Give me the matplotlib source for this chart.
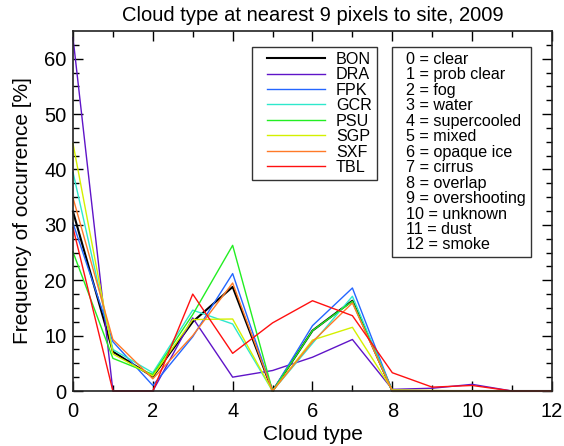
import numpy as np
import matplotlib
matplotlib.use('Agg')
import matplotlib.pyplot as plt
from matplotlib.lines import Line2D
from matplotlib.legend_handler import HandlerLine2D

plt.rcParams['font.family'] = ['Liberation Sans', 'DejaVu Sans']

cloud_type = np.arange(13)
sites = ['BON', 'DRA', 'FPK', 'GCR', 'PSU', 'SGP', 'SXF', 'TBL']
colors = ['#000000', '#5f14c8', '#2466ff', '#2ee8cc', '#22ee22', '#d4f000', '#ff7a28', '#ff1010']

bon = [32.4, 7.1, 2.6, 12.5, 18.8, 0, 10.9, 16.3, 0, 0, 0, 0, 0]
dra = [63.8, 0, 0, 13.2, 2.5, 3.7, 6.1, 9.3, 0.3, 0.5, 1.2, 0, 0]
fpk = [30.3, 8.9, 1.0, 9.8, 21.2, 0, 11.8, 18.6, 0, 0, 0, 0, 0]
gcr = [39.5, 7.5, 3.3, 14.6, 12.1, 0, 8.6, 17.1, 0, 0, 0, 0, 0]
psu = [25.1, 5.9, 3.0, 13.8, 26.3, 0, 10.9, 16.2, 0, 0, 0, 0, 0]
sgp = [44.7, 6.7, 2.7, 12.9, 13.0, 0, 9.2, 11.5, 0.2, 0.1, 0, 0, 0]
sxf = [34.9, 9.3, 2.2, 10.0, 19.5, 0, 8.9, 15.9, 0, 0, 0, 0, 0]
tbl = [29.5, 0, 0, 17.5, 6.8, 12.3, 16.3, 13.6, 3.3, 0.7, 1.0, 0, 0]
freq = [bon, dra, fpk, gcr, psu, sgp, sxf, tbl]

type_names = ['clear', 'prob clear', 'fog', 'water', 'supercooled', 'mixed',
              'opaque ice', 'cirrus', 'overlap', 'overshooting', 'unknown',
              'dust', 'smoke']

fig = plt.figure(figsize=(5.64, 4.46), dpi=100)
ax = fig.add_axes([0.1294, 0.1233, 0.8493, 0.8072])

for name, c, f in zip(sites, colors, freq):
    lw = 1.5 if name == 'BON' else 1.0
    ax.plot(cloud_type, f, color=c, lw=lw, label=name, clip_on=False)

ax.set_xlim(0, 12)
ax.set_ylim(0, 65)
ax.set_xticks(np.arange(0, 13, 2))
ax.set_xticks(np.arange(0, 13, 1), minor=True)
ax.set_yticks(np.arange(0, 61, 10))
ax.set_yticks(np.arange(0, 65, 2.5), minor=True)
ax.tick_params(which='both', direction='in', top=True, right=True, width=1.0, labelsize=14.5)
ax.tick_params(which='major', length=7)
ax.tick_params(which='minor', length=4)
ax.tick_params(axis='x', pad=8)
ax.tick_params(axis='y', pad=4.5)
for s in ax.spines.values():
    s.set_linewidth(1.2)
    s.set_color('#222222')

ax.set_title('Cloud type at nearest 9 pixels to site, 2009', fontsize=14.5, pad=7)
ax.set_xlabel('Cloud type', fontsize=15, labelpad=2.5)
ax.set_ylabel('Frequency of occurrence [%]', fontsize=15, labelpad=9)

leg1 = ax.legend(loc='upper left', bbox_to_anchor=(0.374, 0.956), borderaxespad=0,
                 fontsize=11.6, frameon=True, fancybox=False, edgecolor='black',
                 handlelength=4.2, handletextpad=0.7, labelspacing=0.03,
                 borderpad=0.3, handler_map={Line2D: HandlerLine2D(xpad=0.6)})
leg1.get_frame().set_linewidth(1.0)
ax.add_artist(leg1)

blank = [Line2D([], [], linestyle='none') for _ in type_names]
labels2 = ['%d = %s' % (i, n) for i, n in enumerate(type_names)]
leg2 = ax.legend(blank, labels2, loc='upper left', bbox_to_anchor=(0.665, 0.956),
                 borderaxespad=0, fontsize=11.6, frameon=True, fancybox=False,
                 edgecolor='black', handlelength=0, handletextpad=0.6,
                 labelspacing=0.03, borderpad=0.3)
leg2.get_frame().set_linewidth(1.0)

fig.savefig('out.png', dpi=100)
